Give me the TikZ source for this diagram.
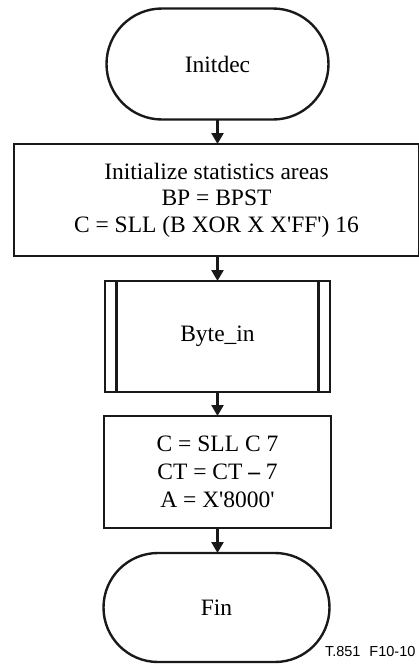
\documentclass[tikz,border=0pt]{standalone}
\usepackage{fontspec}
\setmainfont{Liberation Serif}
\newfontfamily\figlabelfont{Liberation Sans}
\usetikzlibrary{shapes.misc,arrows.meta}

% straight apostrophe for hexadecimal literals
\newcommand\hq{\textquotesingle}

\begin{document}
\begin{tikzpicture}[x=1pt,y=-1pt,
  every node/.style={inner sep=0pt, outer sep=0pt},
  shapeline/.style={draw=black!90, line width=2.4pt},
  terminal/.style={shapeline, rounded rectangle, minimum width=222pt, minimum height=111pt,
    font=\fontsize{23.5}{26.5}\selectfont},
  procbox/.style={shapeline, rectangle, align=center},
  flow/.style={draw=black!90, line width=2.4pt, -{Triangle[length=11pt,width=12pt]}},
]
\useasboundingbox (0,0) rectangle (419,665);

% start and end terminals
\node[terminal] (init) at (217.5,64) {Initdec};
\node[terminal, minimum width=226pt, minimum height=109pt] (fin) at (216.5,607.5) {Fin};

% initialisation block
\node[procbox, minimum width=405pt, minimum height=112pt,
      font=\fontsize{23.5}{26.5}\selectfont] (initbox) at (216.5,200)
  {Initialize statistics areas\\ BP = BPST\\ C = SLL (B XOR X X\hq FF\hq) 16};

% predefined process
\node[procbox, minimum width=225pt, minimum height=111pt,
      font=\fontsize{23.5}{26.5}\selectfont] (bytein) at (217.5,336.5) {Byte\_in};
\draw[shapeline] ([xshift=11.5pt]bytein.north west) -- ([xshift=11.5pt]bytein.south west);
\draw[shapeline] ([xshift=-11.5pt]bytein.north east) -- ([xshift=-11.5pt]bytein.south east);

% shift block
\node[procbox, minimum width=227pt, minimum height=112pt,
      font=\fontsize{23.5}{28}\selectfont] (shiftbox) at (217.5,472)
  {C = SLL C 7\\ CT = CT {\bfseries --} 7\\ A = X\hq 8000\hq};

% connectors
\draw[flow] (init.south) -- (init.south |- initbox.north);
\draw[flow] (bytein.north |- initbox.south) -- (bytein.north);
\draw[flow] (bytein.south) -- (bytein.south |- shiftbox.north);
\draw[flow] (shiftbox.south) -- (shiftbox.south |- fin.north);

% figure reference
\node[anchor=base west, font=\figlabelfont\fontsize{14.5}{17}\selectfont] (figref) at (325,656)
  {T.851\hspace{9pt}F10-10};
\end{tikzpicture}
\end{document}
